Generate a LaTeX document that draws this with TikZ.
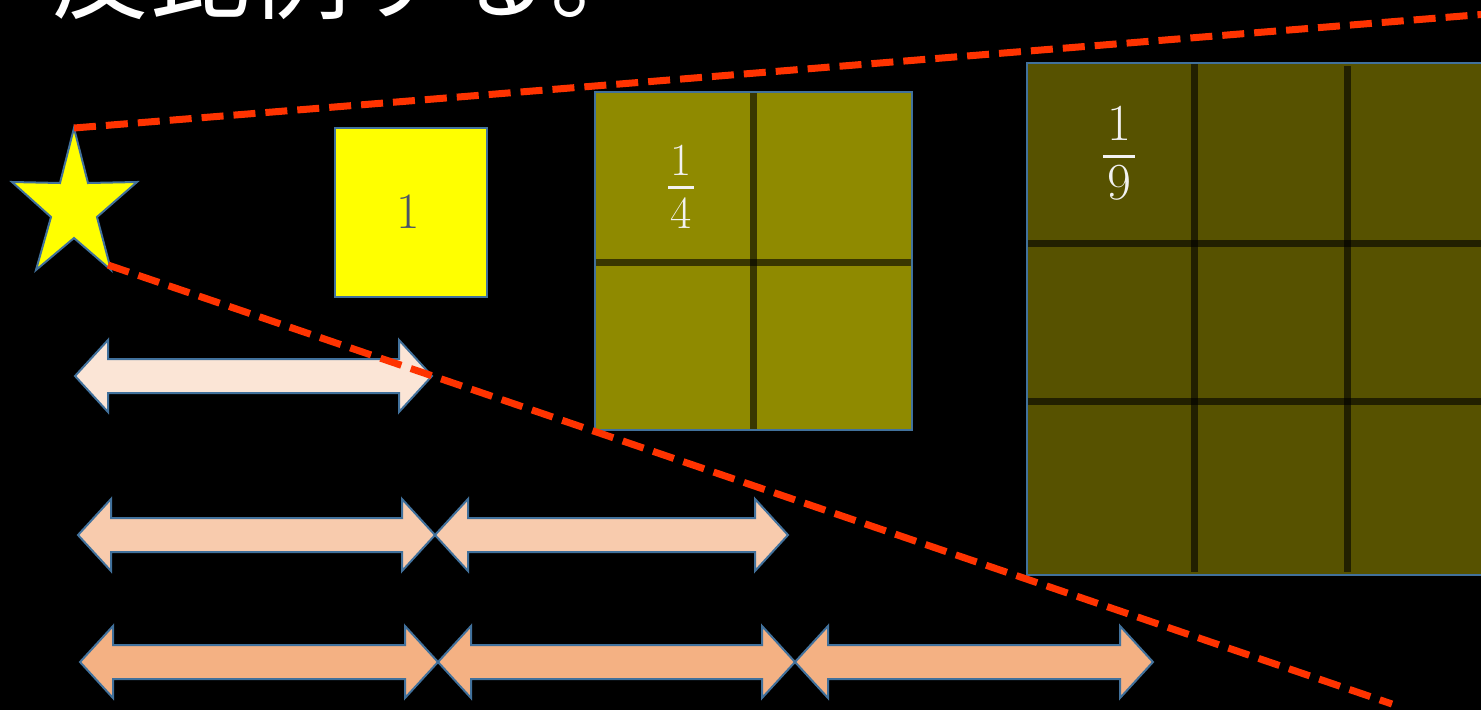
\documentclass[tikz,border=0pt]{standalone}
\usepackage{fontspec}
\newfontfamily\jp{Noto Sans CJK JP}
\definecolor{bord}{HTML}{41719C}
\definecolor{redc}{HTML}{FF3300}
\definecolor{yellowc}{HTML}{FFFF00}
\definecolor{boxfour}{HTML}{8F8A00}
\definecolor{boxnine}{HTML}{575200}
\definecolor{fracc}{HTML}{F2F2F2}
\definecolor{onec}{HTML}{4A5468}
\definecolor{arrA}{HTML}{FBE5D6}
\definecolor{arrB}{HTML}{F8CBAD}
\definecolor{arrC}{HTML}{F4B183}
\tikzset{
  outl/.style={draw=bord, line width=2pt},
  redline/.style={draw=redc, line width=7pt, dash pattern=on 22pt off 10pt},
  gridline/.style={draw=black, draw opacity=0.6, line width=7pt},
  fracnum/.style={text=fracc, inner sep=0pt},
}
\newcommand\DArr[4]{%
  \filldraw[outl, fill=#4] (#1,#3) -- (#1+33,#3-36) -- (#1+33,#3-17) -- (#2-33,#3-17)
    -- (#2-33,#3-36) -- (#2,#3) -- (#2-33,#3+36) -- (#2-33,#3+17) -- (#1+33,#3+17)
    -- (#1+33,#3+36) -- cycle;}
\begin{document}
\begin{tikzpicture}[x=1pt,y=-1pt]
\fill[black] (0,0) rectangle (1481,710);
\useasboundingbox (0,0) rectangle (1481,710);
\clip (0,0) rectangle (1481,710);
% title (cut off at top)
\node[anchor=base west, inner sep=0pt, text=white, font=\jp\fontsize{100}{100}\selectfont] (title) at (50,11) {反比例する。};
% unit square
\filldraw[outl, fill=yellowc] (335,128) rectangle (487,297);
\node[text=onec, inner sep=0pt, font=\fontsize{51}{51}\selectfont] (one) at (408,212) {1};
% quarter square
\filldraw[outl, fill=boxfour] (595,92) rectangle (912,430);
\draw[gridline] (753,93) -- (753,429);
\draw[gridline] (596,262) -- (911,262);
\node[fracnum, font=\fontsize{46}{46}\selectfont] (qn) at (681,160) {1};
\fill[fracc] (668,185.5) rectangle (694,188.5);
\node[fracnum, font=\fontsize{46}{46}\selectfont] (qd) at (681,213) {4};
% ninth square
\filldraw[outl, fill=boxnine] (1027,63) rectangle (1500,575);
\draw[gridline] (1194,64) -- (1194,572);
\draw[gridline] (1347,66) -- (1347,572);
\draw[gridline] (1028,243) -- (1481,243);
\draw[gridline] (1028,401) -- (1481,401);
\node[fracnum, font=\fontsize{52}{52}\selectfont] (nn) at (1119,123) {1};
\fill[fracc] (1103,154.5) rectangle (1135,157.5);
\node[fracnum, font=\fontsize{52}{52}\selectfont] (nd) at (1119,183) {9};
% star
\filldraw[outl, fill=yellowc] (74,128) -- (88,183) -- (137,182) -- (97,217) -- (111,270)
  -- (74,238) -- (36,270) -- (51,217) -- (12,182) -- (60,183) -- cycle;
% double arrows
\DArr{75}{432}{376}{arrA}
\DArr{78}{435}{535}{arrB}
\DArr{435}{788}{535}{arrB}
\DArr{80}{438}{662}{arrC}
\DArr{438}{795}{662}{arrC}
\DArr{795}{1153}{662}{arrC}
% rays
\coordinate (startop) at (74,128);
\coordinate (starbr) at (108,265);
\coordinate (topend) at (1500,13);
\coordinate (botend) at (1392,704);
\draw[redline] (startop) -- (topend);
\draw[redline] (starbr) -- (botend);
\end{tikzpicture}
\end{document}
